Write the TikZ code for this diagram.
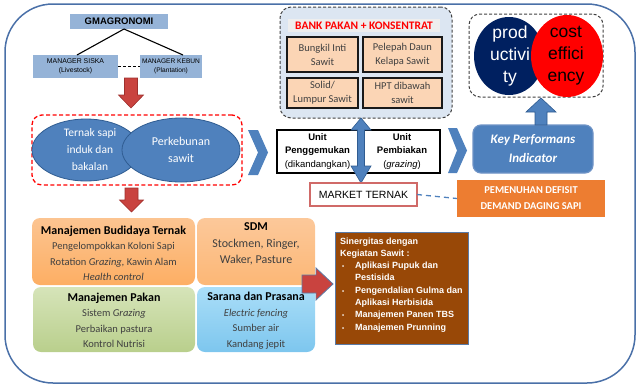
\documentclass[tikz,border=0pt]{standalone}
\usepackage{fontspec}
\setmainfont{Carlito}
\newfontfamily\arialf{Liberation Sans}
\usetikzlibrary{shapes.geometric}
\definecolor{frameblue}{HTML}{4A70A8}
\definecolor{gmblue}{HTML}{95B3D7}
\definecolor{ellblue}{HTML}{4F81BD}
\definecolor{ellborder}{HTML}{2F5C91}
\definecolor{bankbg}{HTML}{DCE6F2}
\definecolor{bankband}{HTML}{EEEEEE}
\definecolor{peach}{HTML}{FBD5B5}
\definecolor{txtgray}{HTML}{404040}
\definecolor{navy}{HTML}{002060}
\definecolor{orangebox}{HTML}{ED7D31}
\definecolor{brownbox}{HTML}{984807}
\definecolor{brownborder}{HTML}{5A7AA6}
\definecolor{redarrow}{HTML}{C9433F}
\definecolor{redarrowb}{HTML}{9E302D}
\definecolor{marketred}{HTML}{D06A68}
\definecolor{kpiborder}{HTML}{6E93C6}
\newcommand{\fs}[2]{\fontsize{#1}{#2}\selectfont}
\begin{document}
\begin{tikzpicture}[x=1pt,y=-1pt,
  every node/.style={inner sep=0pt, outer sep=0pt},
  gmbox/.style={fill=gmblue, align=center},
  bankitem/.style={draw=black!90, line width=1.4pt, fill=peach, align=center, text=txtgray, font=\fs{10.5}{14}},
  unitbox/.style={draw=black, line width=1.3pt, fill=white, align=center, font=\arialf\fs{9.5}{13.5}},
  blockred/.style={fill=redarrow, draw=redarrowb, line width=0.6pt},
  blockblue/.style={fill=ellblue, draw=ellborder, line width=0.6pt},
  chev/.style={fill=ellblue, draw=none},
  lowbox/.style={rounded corners=8pt},
  lowtxt/.style={align=center, text=txtgray, font=\fs{10.5}{15.5}},
  dashbox/.style={rounded corners=11pt, line width=1pt, dash pattern=on 3pt off 2pt}
]
\useasboundingbox (0,0) rectangle (640,386);
\draw[frameblue, line width=1.5pt, rounded corners=48pt] (5,4) rectangle (635,383);

% ---------- organisation ----------
\node[gmbox, minimum width=98pt, minimum height=15pt, font=\arialf\bfseries\fs{9.5}{11}] (gm) at (119,21.5) {GMAGRONOMI};
\node[gmbox, minimum width=85pt, minimum height=23pt, font=\arialf\fs{6.9}{9}] (ms) at (75.5,66.5) {MANAGER SISKA\\(Livestock)};
\node[gmbox, minimum width=62pt, minimum height=23pt, font=\arialf\fs{6.6}{9}] (mk) at (171,66.5) {MANAGER KEBUN\\(Plantation)};
\draw[line width=1.1pt] ([xshift=5pt]gm.south) -- ([xshift=1.5pt]ms.north);
\draw[line width=1.1pt] ([xshift=5pt]gm.south) -- ([xshift=12pt]mk.north);
\draw[line width=1.1pt, dash pattern=on 3pt off 2pt] (ms.east) -- (mk.west);

% red arrow down 1
\draw[blockred] (124.5,78) -- (137.5,78) -- (137.5,95) -- (143.5,95) -- (131,108) -- (118.5,95) -- (124.5,95) -- cycle;

% ---------- bank pakan ----------
\node[dashbox, draw=black!75, fill=bankbg, minimum width=172pt, minimum height=111pt] (bank) at (366,62.5) {};
\node[fill=bankband, minimum width=152pt, minimum height=13pt, text=red, font=\bfseries\fs{11.5}{13}] (banktitle) at (364,25.5) {BANK PAKAN + KONSENTRAT};
\node[bankitem, minimum width=71pt, minimum height=35pt] (bis) at (322.5,54.5) {Bungkil Inti\\Sawit};
\node[bankitem, minimum width=79pt, minimum height=35pt] (pdks) at (402.5,54.5) {Pelepah Daun\\Kelapa Sawit};
\node[bankitem, minimum width=71pt, minimum height=30pt] (sls) at (322.5,93) {Solid/\\Lumpur Sawit};
\node[bankitem, minimum width=79pt, minimum height=30pt] (hpt) at (402.5,93) {HPT dibawah\\sawit};

% ---------- productivity ----------
\node[dashbox, draw=black!75, fill=white, minimum width=134pt, minimum height=83pt] (prodbox) at (536,55.5) {};
\node[ellipse, fill=navy, minimum width=70pt, minimum height=78pt] (prod) at (509,56) {};
\node[ellipse, fill=red, minimum width=72pt, minimum height=82pt] (cost) at (567,56) {};
\node[align=center, text=white, font=\arialf\fs{17.5}{22}] (prodt) at (510,56) {prod\\uctivi\\ty};
\node[align=center, text=black, font=\arialf\fs{17.5}{22}] (costt) at (566,56) {cost\\effici\\ency};

% ---------- ternak / perkebunan ----------
\node[draw=red, rounded corners=10pt, line width=1.3pt, dash pattern=on 4pt off 2.5pt, minimum width=210pt, minimum height=70pt] (sinbox) at (137,150) {};
\node[ellipse, fill=ellblue, draw=ellborder, line width=0.8pt, minimum width=108pt, minimum height=62pt] (ternak) at (86,150) {};
\node[ellipse, fill=ellblue, draw=ellborder, line width=0.8pt, minimum width=118pt, minimum height=64pt] (kebun) at (181,150) {};
\node[align=center, text=white, font=\fs{11.5}{17}] (ternakt) at (90,150) {Ternak sapi\\induk dan\\bakalan};
\node[align=center, text=white, font=\fs{12}{17}] (kebunt) at (181,150) {Perkebunan\\sawit};

% chevron 1
\fill[chev] (248,130) -- (258,130) -- (268,152.5) -- (258,175) -- (248,175) -- (258,152.5) -- cycle;

% ---------- units ----------
\node[unitbox, minimum width=81pt, minimum height=43pt] (up) at (317.5,151.5) {\textbf{Unit}\\\textbf{Penggemukan}\\(dikandangkan)};
\node[unitbox, minimum width=76pt, minimum height=43pt] (ub) at (402,151.5) {\textbf{Unit}\\\textbf{Pembiakan}\\(\textit{grazing})};
\draw[blockblue] (361,118) -- (371,130) -- (364.5,130) -- (364.5,166) -- (371,166) -- (361,183) -- (351,166) -- (357.5,166) -- (357.5,130) -- (351,130) -- cycle;

\node[draw=marketred, line width=1.2pt, fill=white, minimum width=107pt, minimum height=23pt, font=\arialf\fs{10.5}{12}] (market) at (363.5,194.5) {MARKET TERNAK};
\node[fill=orangebox, minimum width=148pt, minimum height=37pt, align=center, text=white, font=\bfseries\fs{10.5}{16}] (defisit) at (531,198.5) {PEMENUHAN DEFISIT\\DEMAND DAGING SAPI};
\draw[ellblue, line width=1.3pt, dash pattern=on 5pt off 4pt] (market.east) -- (defisit.west);

% chevron 2
\fill[chev] (448,128) -- (457,128) -- (467,150.5) -- (457,173) -- (448,173) -- (457,150.5) -- cycle;

% KPI
\node[fill=ellblue, draw=kpiborder, line width=1.2pt, rounded corners=8pt, minimum width=120pt, minimum height=48pt, align=center, text=white, font=\bfseries\itshape\fs{13}{19}] (kpi) at (533,149) {Key Performans\\Indicator};
\draw[blockblue] (541,98) -- (556,112) -- (547,112) -- (547,125) -- (535,125) -- (535,112) -- (526,112) -- cycle;

% red arrow down 2
\draw[blockred] (125,188) -- (138,188) -- (138,200) -- (143.5,200) -- (131.5,212) -- (119.5,200) -- (125,200) -- cycle;

% ---------- lower boxes ----------
\node[lowbox, top color=orange!20!peach, bottom color=orange!45!peach, minimum width=163pt, minimum height=67pt] (budi) at (113.5,251.5) {};
\node[lowbox, top color=peach!85!orange, bottom color=orange!35!peach, minimum width=118pt, minimum height=67pt] (sdm) at (256,251.5) {};
\node[lowbox, top color={rgb,255:red,214;green,228;blue,185}, bottom color={rgb,255:red,185;green,207;blue,140}, minimum width=162pt, minimum height=65pt] (pakan) at (114,319.5) {};
\node[lowbox, top color={rgb,255:red,170;green,222;blue,248}, bottom color={rgb,255:red,125;green,198;blue,238}, minimum width=118pt, minimum height=65pt] (sarana) at (256,319.5) {};

\node[lowtxt] (budit) at (113.5,253.5) {{\color{black}\fs{12}{15.5}\textbf{Manajemen Budidaya Ternak}}\\Pengelompokkan Koloni Sapi\\Rotation \textit{Grazing,} Kawin Alam\\\textit{Health control}};
\node[lowtxt, font=\fs{12}{16}] (sdmt) at (256,244) {{\color{black}\textbf{SDM}}\\[1.5pt]Stockmen, Ringer,\\Waker, Pasture};
\node[lowtxt] (pakant) at (114,320.5) {{\color{black}\fs{12}{15.5}\textbf{Manajemen Pakan}}\\Sistem \textit{Grazing}\\Perbaikan pastura\\Kontrol Nutrisi};
\node[lowtxt] (saranat) at (256,320.5) {{\color{black}\fs{12}{15.5}\textbf{Sarana dan Prasana}}\\\textit{Electric fencing}\\Sumber air\\Kandang jepit};

% red right arrow
\draw[fill=redarrow, draw=brownborder, line width=0.8pt] (302,275) -- (316,275) -- (316,268) -- (333,284) -- (316,300) -- (316,293) -- (302,293) -- cycle;

% sinergitas
\node[fill=brownbox, draw=brownborder, line width=1pt, minimum width=133pt, minimum height=112pt] (siner) at (401.5,288) {};
\node[anchor=north west, align=left, text=white, font=\arialf\bfseries\fs{9}{12.3}] (sinert) at (340,237.5) {Sinergitas dengan\\Kegiatan Sawit :\\
\hspace*{2pt}\makebox[13pt][l]{\fs{6}{6}\textbullet}Aplikasi Pupuk dan\\
\hspace*{15pt}Pestisida\\
\hspace*{2pt}\makebox[13pt][l]{\fs{6}{6}\textbullet}Pengendalian Gulma dan\\
\hspace*{15pt}Aplikasi Herbisida\\
\hspace*{2pt}\makebox[13pt][l]{\fs{6}{6}\textbullet}Manajemen Panen TBS\\
\hspace*{2pt}\makebox[13pt][l]{\fs{6}{6}\textbullet}Manajemen Prunning};
\end{tikzpicture}
\end{document}
